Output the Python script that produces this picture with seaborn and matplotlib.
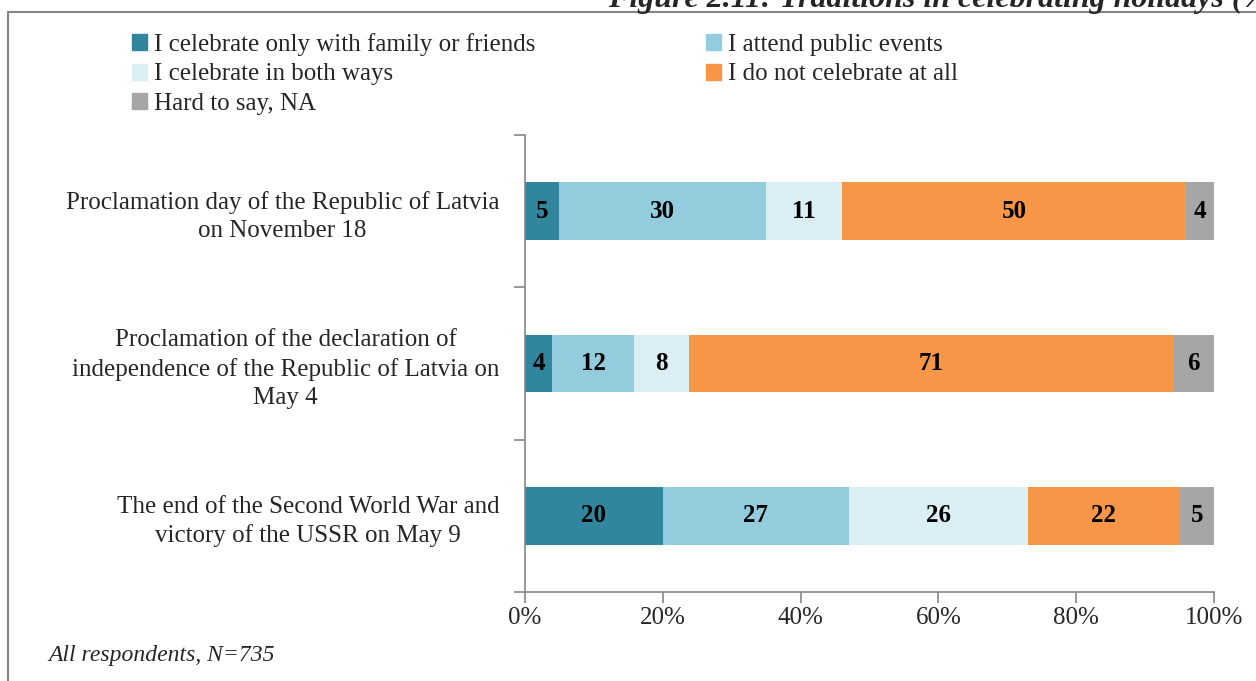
import matplotlib.pyplot as plt
import matplotlib.patches as mpatches
import seaborn as sns
import pandas as pd

# Survey shares (%), as printed in the bars; plotted as 100% stacked
holidays = [
    "Proclamation day of the Republic of Latvia\non November 18",
    "Proclamation of the declaration of\nindependence of the Republic of Latvia on\nMay 4",
    "The end of the Second World War and\nvictory of the USSR on May 9",
]
answers = [
    "I celebrate only with family or friends",
    "I attend public events",
    "I celebrate in both ways",
    "I do not celebrate at all",
    "Hard to say, NA",
]
family_only = [5, 4, 20]
public_events = [30, 12, 27]
both_ways = [11, 8, 26]
not_at_all = [50, 71, 22]
hard_to_say = [4, 6, 5]

colors = ["#31859C", "#93CDDD", "#DBEEF4", "#F79646", "#A6A6A6"]

df = pd.DataFrame(
    dict(zip(answers, [family_only, public_events, both_ways, not_at_all, hard_to_say])),
    index=holidays,
)
shares = df.div(df.sum(axis=1), axis=0) * 100

sns.set_style("white")
plt.rcParams["font.family"] = ["Liberation Serif", "DejaVu Serif"]
FS = 18

fig = plt.figure(figsize=(12.56, 6.81), dpi=100)
ax = fig.add_axes([0.418, 0.1307, 0.5486, 0.6711])

left = pd.Series(0.0, index=holidays)
for answer, color in zip(answers, colors):
    sns.barplot(x=shares[answer].values, y=holidays, left=left.values, orient="h",
                color=color, width=0.38, ax=ax, saturation=1, linewidth=0)
    for i, h in enumerate(holidays):
        ax.text(left[h] + shares.loc[h, answer] / 2, i, f"{df.loc[h, answer]}",
                ha="center", va="center", fontsize=FS, fontweight="bold", color="black")
    left = left + shares[answer]

ax.set_xlim(0, 100)
ax.set_ylim(2.5, -0.5)
ax.set_xticks(range(0, 101, 20))
ax.set_xticklabels([f"{v}%" for v in range(0, 101, 20)], fontsize=FS)
ax.set_yticks(range(len(holidays)))
ax.set_yticklabels(holidays, fontsize=FS, multialignment="center", linespacing=1.35)
ax.set_yticks([-0.5, 0.5, 1.5, 2.5], minor=True)
ax.tick_params(axis="y", which="major", left=False, pad=15)
ax.tick_params(axis="y", which="minor", left=True, length=8, color="#868686",
               width=1.2, direction="out")
ax.tick_params(axis="x", bottom=True, length=8, color="#868686", width=1.2,
               direction="out", pad=3)
ax.set_xlabel("")
ax.set_ylabel("")
for side in ["top", "right"]:
    ax.spines[side].set_visible(False)
for side in ["left", "bottom"]:
    ax.spines[side].set_color("#868686")
    ax.spines[side].set_linewidth(1.2)

# legend, row-wise order like the original
handles = [mpatches.Patch(color=c, label=a) for a, c in zip(answers, colors)]
order = [0, 2, 4, 1, 3]
fig.legend([handles[i] for i in order], [answers[i] for i in order], ncol=2,
           loc="upper left", bbox_to_anchor=(0.095, 0.97), frameon=False, fontsize=FS,
           handlelength=0.6, handleheight=0.6, handletextpad=0.3, columnspacing=6.8,
           labelspacing=0.3, borderpad=0)

# chart frame
fig.patches.append(mpatches.Rectangle((8 / 1256, -0.05), 1.1, 1 - 12 / 681 + 0.05,
                                      transform=fig.transFigure, fill=False,
                                      edgecolor="#868686", linewidth=1.5))

fig.text(608 / 1256, 1 - 7 / 681, "Figure 2.11: Traditions in celebrating holidays (%)",
         fontsize=23, fontweight="bold", fontstyle="italic", va="baseline", ha="left")
fig.text(48 / 1256, 1 - 655 / 681, "All respondents, N=735", fontsize=17,
         fontstyle="italic", va="center", ha="left")

fig.savefig("out.png", dpi=100, facecolor="white")
